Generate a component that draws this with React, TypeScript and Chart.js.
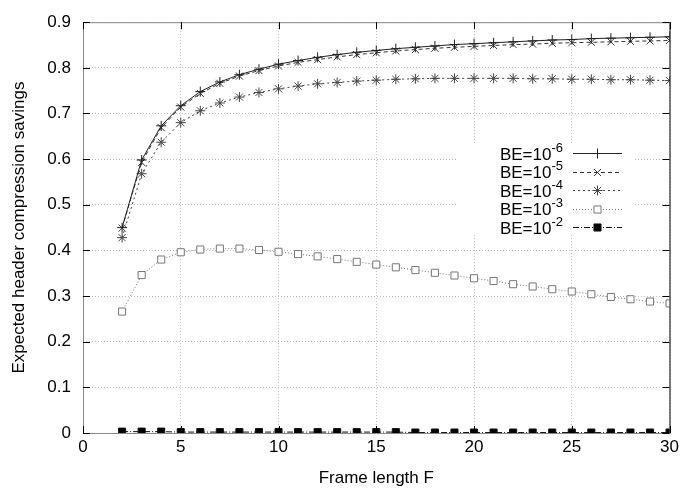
import React, { useEffect, useRef } from "react";
import { Chart, registerables } from "chart.js";

Chart.register(...registerables);

const frameLengths = [2, 3, 4, 5, 6, 7, 8, 9, 10, 11, 12, 13, 14, 15, 16, 17, 18, 19, 20, 21, 22, 23, 24, 25, 26, 27, 28, 29, 30];

const be6 = [0.450, 0.598, 0.673, 0.717, 0.748, 0.769, 0.785, 0.797, 0.808, 0.816, 0.823, 0.829, 0.834, 0.838, 0.842, 0.845, 0.848, 0.851, 0.853, 0.855, 0.857, 0.859, 0.861, 0.862, 0.864, 0.865, 0.866, 0.867, 0.868];
const be5 = [0.449, 0.593, 0.669, 0.714, 0.744, 0.766, 0.782, 0.794, 0.804, 0.812, 0.818, 0.824, 0.829, 0.833, 0.837, 0.840, 0.843, 0.845, 0.847, 0.849, 0.851, 0.852, 0.854, 0.855, 0.856, 0.857, 0.858, 0.859, 0.860];
const be4 = [0.428, 0.568, 0.637, 0.680, 0.706, 0.723, 0.736, 0.746, 0.754, 0.760, 0.765, 0.768, 0.771, 0.773, 0.775, 0.776, 0.777, 0.777, 0.777, 0.777, 0.777, 0.776, 0.776, 0.775, 0.775, 0.774, 0.774, 0.773, 0.772];
const be3 = [0.266, 0.346, 0.380, 0.396, 0.402, 0.404, 0.404, 0.401, 0.397, 0.392, 0.387, 0.381, 0.375, 0.369, 0.363, 0.357, 0.351, 0.345, 0.339, 0.333, 0.326, 0.321, 0.315, 0.310, 0.304, 0.298, 0.293, 0.288, 0.284];
const be2 = [0.003, 0.003, 0.003, 0.002, 0.002, 0.002, 0.002, 0.002, 0.002, 0.002, 0.002, 0.002, 0.002, 0.002, 0.002, 0.001, 0.001, 0.001, 0.001, 0.001, 0.001, 0.001, 0.001, 0.001, 0.001, 0.001, 0.001, 0.001, 0.001];

const seriesBase = ["BE=10", "BE=10", "BE=10", "BE=10", "BE=10"];
const seriesExp = ["-6", "-5", "-4", "-3", "-2"];

const xTickStep = 5;
const yTickStep = 0.1;

const FONT = "'Liberation Sans', Arial, sans-serif";
const FS = 17;

function toPoints(vals: number[]) {
  return frameLengths.map((f, i) => ({ x: f, y: vals[i] }));
}

const styles = [
  { color: "#222", dash: [], point: "cross", radius: 5, fill: "#222" },
  { color: "#333", dash: [4, 3], point: "crossRot", radius: 5, fill: "#333" },
  { color: "#444", dash: [2, 3], point: "star", radius: 5, fill: "#444" },
  { color: "#777", dash: [1, 2], point: "rect", radius: 5, fill: "#fff" },
  { color: "#111", dash: [6, 2, 1, 2], point: "rect", radius: 5, fill: "#000" },
];

const rowY = [153, 171.5, 190, 208.5, 227];

const frameAndLegend = {
  id: "frameAndLegend",
  beforeDatasetsDraw(chart: any) {
    const ctx = chart.ctx;
    ctx.save();
    ctx.fillStyle = "#fff";
    ctx.fillRect(457, 143, 176, 91);
    ctx.restore();
  },
  afterDatasetsDraw(chart: any) {
    const ctx = chart.ctx;
    const { left, right, top, bottom } = chart.chartArea;
    const xs = chart.scales.x;
    const ys = chart.scales.y;
    ctx.save();
    ctx.lineWidth = 1;
    ctx.strokeStyle = "#888";
    ctx.beginPath();
    ctx.moveTo(left + 0.5, bottom + 0.5);
    ctx.lineTo(left + 0.5, top + 0.5);
    ctx.lineTo(right + 0.5, top + 0.5);
    ctx.stroke();
    ctx.strokeStyle = "#000";
    ctx.beginPath();
    ctx.moveTo(right + 0.5, top + 0.5);
    ctx.lineTo(right + 0.5, bottom + 0.5);
    ctx.stroke();
    ctx.strokeStyle = "#888";
    ctx.beginPath();
    ctx.moveTo(left + 0.5, bottom + 0.5);
    ctx.lineTo(right + 0.5, bottom + 0.5);
    ctx.stroke();
    ctx.strokeStyle = "#000";
    ctx.beginPath();
    for (const t of ys.ticks) {
      const py = Math.round(ys.getPixelForValue(t.value)) + 0.5;
      ctx.moveTo(left, py);
      ctx.lineTo(left + 7, py);
      ctx.moveTo(right, py);
      ctx.lineTo(right - 7, py);
    }
    for (const t of xs.ticks) {
      const px = Math.round(xs.getPixelForValue(t.value)) + 0.5;
      ctx.moveTo(px, bottom);
      ctx.lineTo(px, bottom - 7);
      ctx.moveTo(px, top);
      ctx.lineTo(px, top + 7);
    }
    ctx.stroke();

    for (let i = 0; i < 5; i++) {
      const y = rowY[i];
      ctx.font = `${FS}px ${FONT}`;
      const wBase = ctx.measureText(seriesBase[i]).width;
      ctx.font = `13px ${FONT}`;
      const wExp = ctx.measureText(seriesExp[i]).width;
      const x0 = 563 - wBase - wExp;
      ctx.fillStyle = "#000";
      ctx.textBaseline = "middle";
      ctx.textAlign = "left";
      ctx.font = `${FS}px ${FONT}`;
      ctx.fillText(seriesBase[i], x0, y + 2);
      ctx.font = `13px ${FONT}`;
      ctx.fillText(seriesExp[i], x0 + wBase, y - 5);
      const st = styles[i];
      ctx.strokeStyle = st.color;
      ctx.lineWidth = 1;
      ctx.setLineDash(st.dash);
      ctx.beginPath();
      ctx.moveTo(573, Math.round(y) + 0.5);
      ctx.lineTo(622, Math.round(y) + 0.5);
      ctx.stroke();
      ctx.setLineDash([]);
    }
    ctx.restore();
  },
};

const legendMarkers = {
  id: "legendMarkers",
  afterDraw(chart: any) {
    const ctx = chart.ctx;
    ctx.save();
    for (let i = 0; i < 5; i++) {
      const st = styles[i];
      ctx.strokeStyle = st.color;
      ctx.fillStyle = st.fill;
      ctx.lineWidth = 1;
      const y = Math.round(rowY[i]) + 0.5;
      const x = 597.5;
      const r = st.radius;
      if (st.point === "rect") {
        const s = Math.SQRT1_2 * r;
        ctx.beginPath();
        ctx.rect(x - s, y - s, 2 * s, 2 * s);
        ctx.fill();
        ctx.stroke();
      } else {
        ctx.beginPath();
        if (st.point === "cross" || st.point === "star") {
          ctx.moveTo(x, y - r); ctx.lineTo(x, y + r);
          ctx.moveTo(x - r, y); ctx.lineTo(x + r, y);
        }
        if (st.point === "crossRot" || st.point === "star") {
          const d = r * Math.SQRT1_2;
          ctx.moveTo(x - d, y - d); ctx.lineTo(x + d, y + d);
          ctx.moveTo(x + d, y - d); ctx.lineTo(x - d, y + d);
        }
        ctx.stroke();
      }
    }
    ctx.restore();
  },
};

export default function App() {
  const ref = useRef<HTMLCanvasElement | null>(null);
  useEffect(() => {
    if (!ref.current) return;
    const datasets = [be6, be5, be4, be3, be2].map((vals, i) => ({
      label: seriesBase[i] + seriesExp[i],
      data: toPoints(vals),
      borderColor: styles[i].color,
      borderWidth: 1,
      borderDash: styles[i].dash,
      pointStyle: styles[i].point,
      pointRadius: styles[i].radius,
      pointBorderColor: styles[i].color,
      pointBackgroundColor: styles[i].fill,
      pointBorderWidth: 1,
      tension: 0,
      fill: false,
    }));
    const chart = new Chart(ref.current, {
      type: "line",
      data: { datasets },
      plugins: [frameAndLegend, legendMarkers],
      options: {
        responsive: false,
        animation: false,
        layout: { padding: { top: 11, right: 10, left: 0, bottom: 0 } },
        plugins: { legend: { display: false }, tooltip: { enabled: false } },
        scales: {
          x: {
            type: "linear",
            min: 0,
            max: 30,
            ticks: { stepSize: xTickStep, color: "#000", font: { family: FONT, size: FS }, padding: 4, maxRotation: 0 },
            grid: { color: "#bbb", drawTicks: false, lineWidth: 1 },
            border: { display: false, dash: [1, 2] },
            title: { display: true, text: "Frame length F", color: "#000", font: { family: FONT, size: FS }, padding: { top: 4, bottom: 3 } },
            afterFit: (s: any) => { s.height = 59; },
          },
          y: {
            type: "linear",
            min: 0,
            max: 0.9,
            ticks: { stepSize: yTickStep, color: "#000", font: { family: FONT, size: FS }, padding: 12, callback: (v: any) => String(Math.round(v * 10) / 10) },
            grid: { color: "#bbb", drawTicks: false, lineWidth: 1 },
            border: { display: false, dash: [1, 2] },
            title: { display: true, text: "Expected header compression savings", color: "#000", font: { family: FONT, size: FS }, padding: { top: 9, bottom: 4 } },
            afterFit: (s: any) => { s.width = 83; },
          },
        },
      },
    });
    return () => chart.destroy();
  }, []);
  return (
    <div style={{ position: "fixed", left: 0, top: 0, width: 683, height: 492, background: "#fff" }}>
      <canvas ref={ref} width={683} height={492} style={{ display: "block" }} />
    </div>
  );
}
